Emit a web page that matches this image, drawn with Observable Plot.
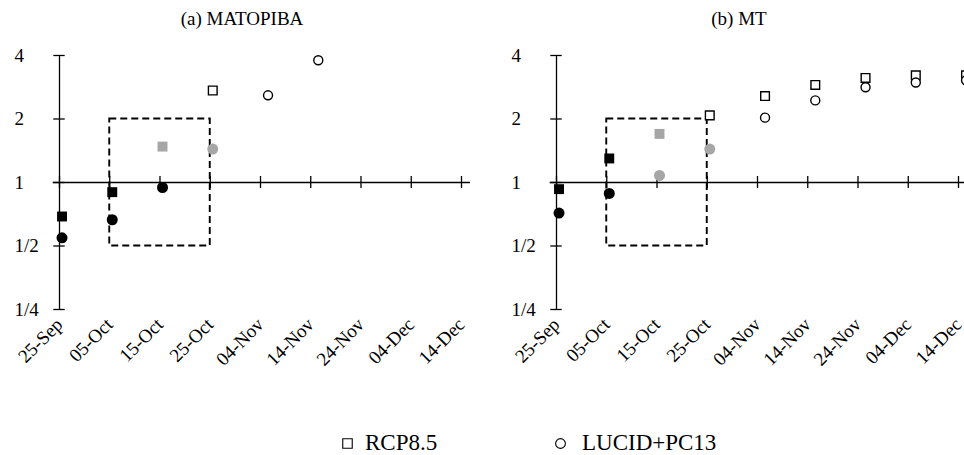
<!DOCTYPE html>
<html><head><meta charset="utf-8">
<script src="https://cdn.jsdelivr.net/npm/d3@7"></script>
<script src="https://cdn.jsdelivr.net/npm/@observablehq/plot@0.6"></script>
<style>
html,body{margin:0;padding:0;background:#fff;}
#root{position:relative;width:964px;height:455px;overflow:hidden;font-family:"Liberation Serif","Times New Roman",serif;color:#000;}
.panel{position:absolute;top:0;width:481px;height:380px;}
.panel svg{overflow:visible;max-width:none !important;width:481px;height:380px;}
#root svg text{font-family:"Liberation Serif","Times New Roman",serif;}
.title{position:absolute;top:9px;font-size:19px;line-height:1;white-space:nowrap;transform:translateX(-50%);}
.legtext{position:absolute;top:431px;font-size:23px;line-height:1;white-space:nowrap;font-family:"Liberation Serif","Times New Roman",serif;}
.legicon{position:absolute;}
</style></head><body><div id="root"></div>
<script>
// ---------- data ----------
const year = "2021";
const tickLabels = ["25-Sep","05-Oct","15-Oct","25-Oct","04-Nov","14-Nov","24-Nov","04-Dec","14-Dec"];
// dekad mid-points at which the values are plotted
const pointDates = ["25-Sep 12","05-Oct 12","15-Oct 12","25-Oct 12","05-Nov 12","15-Nov 12","25-Nov 12","05-Dec 12","15-Dec 12"];
const yTickValues = [0.25, 0.5, 1, 2, 4];
const yTickLabels = ["1/4", "1/2", "1", "2", "4"];
const seriesNames = ["RCP8.5", "LUCID+PC13"];
const panelTitles = ["(a) MATOPIBA", "(b) MT"];
const windowStart = "05-Oct", windowEnd = "25-Oct", windowLow = 0.5, windowHigh = 2;

// (a) MATOPIBA
const matopibaRcp        = [0.69, 0.90, 1.48, 2.73, null, null, null, null, null];
const matopibaRcpStage   = ["early","early","window","late", null, null, null, null, null];
const matopibaLucid      = [0.547, 0.666, 0.947, 1.44, 2.59, 3.80, null, null, null];
const matopibaLucidStage = ["early","early","early","window","late","late", null, null, null];
// (b) MT
const mtRcp        = [0.93, 1.30, 1.70, 2.08, 2.57, 2.90, 3.13, 3.22, 3.22];
const mtRcpStage   = ["early","early","window","late","late","late","late","late","late"];
const mtLucid      = [0.716, 0.887, 1.08, 1.44, 2.03, 2.45, 2.83, 2.98, 3.05];
const mtLucidStage = ["early","early","window","window","late","late","late","late","late"];

// ---------- helpers ----------
const FONT = "Liberation Serif, Times New Roman, serif";
const parseDay = d3.utcParse("%d-%b-%Y");
const parseDayHour = d3.utcParse("%d-%b %H-%Y");
const ticks = tickLabels.map(s => parseDay(s + "-" + year));
const pts = pointDates.map(s => parseDayHour(s + "-" + year));
const d0 = ticks[0], d1 = ticks[ticks.length - 1];
const yLabel = new Map(yTickValues.map((v, i) => [v, yTickLabels[i]]));
const GRAY = "#a6a6a6";

function rowsFor(values, stages, series) {
  const out = [];
  values.forEach((v, i) => { if (v != null) out.push({date: pts[i], value: v, series, stage: stages[i]}); });
  return out;
}

function dotsFor(rows, symbol) {
  const early = rows.filter(r => r.stage === "early");
  const win = rows.filter(r => r.stage === "window");
  const late = rows.filter(r => r.stage === "late");
  const sq = symbol === "square";
  return [
    Plot.dot(early, {x: "date", y: "value", symbol, r: sq ? 5.6 : 5.5, fill: "black", stroke: "none"}),
    Plot.dot(win, {x: "date", y: "value", symbol, r: sq ? 5.6 : 5.5, fill: GRAY, stroke: "none"}),
    Plot.dot(late, {x: "date", y: "value", symbol, r: sq ? 4.9 : 4.5, fill: "white", stroke: "black", strokeWidth: 1.4})
  ];
}

function panel(rcp, rcpStage, lucid, lucidStage) {
  const rcpRows = rowsFor(rcp, rcpStage, seriesNames[0]);
  const lucidRows = rowsFor(lucid, lucidStage, seriesNames[1]);
  const win = [{x1: parseDay(windowStart + "-" + year), x2: parseDay(windowEnd + "-" + year), y1: windowLow, y2: windowHigh}];
  return Plot.plot({
    width: 481, height: 380,
    marginLeft: 59, marginRight: 20, marginTop: 55, marginBottom: 71,
    style: "font-family: 'Liberation Serif', 'Times New Roman', serif; font-size: 19px; color: black; background: transparent; overflow: visible;",
    x: {type: "utc", domain: [d0, d1]},
    y: {type: "log", base: 2, domain: [0.25, 4], axis: null},
    marks: [
      // dashed window
      Plot.rect(win, {x1: "x1", x2: "x2", y1: "y1", y2: "y2", fill: "none", stroke: "black", strokeWidth: 1.9, strokeDasharray: "7,4"}),
      // y axis line and crossing ticks
      Plot.ruleX([d0], {x: d => d, y1: () => yTickValues[0], y2: () => yTickValues[yTickValues.length - 1], stroke: "black", strokeWidth: 1.3}),
      Plot.ruleY(yTickValues, {y: d => d, x1: () => d0, x2: () => d0, insetLeft: -5.7, insetRight: -5.7, stroke: "black", strokeWidth: 1.3}),
      Plot.text(yTickValues, {x: () => d0, y: d => d, text: d => yLabel.get(d), textAnchor: "start", dx: -45, fontSize: 19, fontFamily: FONT}),
      // x axis line at 1 and crossing ticks
      Plot.ruleY([1], {y: d => d, x1: () => d0, x2: () => d1, insetLeft: -6.3, insetRight: -9, stroke: "black", strokeWidth: 1.3}),
      Plot.ruleX(ticks, {x: d => d, y1: () => 1, y2: () => 1, insetTop: -6, insetBottom: -6, stroke: "black", strokeWidth: 1.3}),
      Plot.axisX({ticks: ticks, tickFormat: d3.utcFormat("%d-%b"), tickRotate: -45, tickSize: 0, tickPadding: 12, fontSize: 19, fontFamily: FONT}),
      ...dotsFor(rcpRows, "square"),
      ...dotsFor(lucidRows, "circle")
    ]
  });
}

// ---------- layout ----------
const root = document.getElementById("root");
function place(node, left) {
  const wrap = document.createElement("div");
  wrap.className = "panel";
  wrap.style.left = left + "px";
  wrap.appendChild(node);
  root.appendChild(wrap);
}
place(panel(matopibaRcp, matopibaRcpStage, matopibaLucid, matopibaLucidStage), 0);
place(panel(mtRcp, mtRcpStage, mtLucid, mtLucidStage), 497);

[[panelTitles[0], 242], [panelTitles[1], 739]].forEach(([t, cx]) => {
  const d = document.createElement("div");
  d.className = "title"; d.style.left = cx + "px"; d.textContent = t;
  root.appendChild(d);
});

// legend
const legend = [
  {name: seriesNames[0], symbol: "square", iconLeft: 341, textLeft: 365},
  {name: seriesNames[1], symbol: "circle", iconLeft: 554, textLeft: 582}
];
legend.forEach(l => {
  const ns = "http://www.w3.org/2000/svg";
  const s = document.createElementNS(ns, "svg");
  s.setAttribute("width", 13); s.setAttribute("height", 13);
  s.setAttribute("class", "legicon");
  s.style.left = l.iconLeft + "px"; s.style.top = "437px";
  const p = document.createElementNS(ns, "path");
  const sym = l.symbol === "square" ? d3.symbolSquare : d3.symbolCircle;
  const size = l.symbol === "square" ? 90 : 75;
  p.setAttribute("d", d3.symbol(sym, size)());
  p.setAttribute("transform", "translate(6.5,6.5)");
  p.setAttribute("fill", "white"); p.setAttribute("stroke", "black"); p.setAttribute("stroke-width", 1.1);
  s.appendChild(p);
  root.appendChild(s);
  const t = document.createElement("div");
  t.className = "legtext"; t.style.left = l.textLeft + "px"; t.textContent = l.name;
  root.appendChild(t);
});
</script></body></html>
